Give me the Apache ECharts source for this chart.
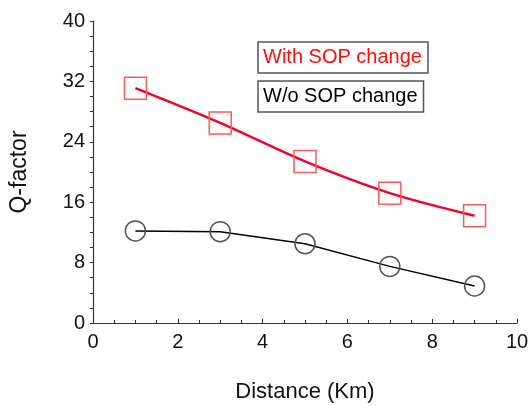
<!DOCTYPE html>
<html>
<head>
<meta charset="utf-8">
<script src="https://cdn.jsdelivr.net/npm/echarts@6/dist/echarts.min.js"></script>
<style>html,body{margin:0;padding:0;background:#fff}#c{width:531px;height:406px}</style>
</head>
<body>
<div id="c"></div>
<script>
var distances = [1, 3, 5, 7, 9];
var withSOP = [31.1, 26.5, 21.4, 17.2, 14.2];
var withoutSOP = [12.2, 12.1, 10.5, 7.5, 4.9];
var xTicks = [0, 2, 4, 6, 8, 10];
var yTicks = [0, 8, 16, 24, 32, 40];

function pairs(xs, ys) { return xs.map(function (x, i) { return [x, ys[i]]; }); }

var font = 'Liberation Sans, Arial, sans-serif';
var chart = echarts.init(document.getElementById('c'));
chart.setOption({
  animation: false,
  backgroundColor: '#fff',
  grid: { left: 93, right: 14, top: 21, bottom: 83, outerBoundsMode: 'none', containLabel: false },
  legend: [
    {
      left: 258, top: 42, orient: 'vertical',
      data: [{ name: 'With SOP change', icon: 'none', textStyle: { color: '#ff0d0d' } }],
      itemWidth: 0, itemGap: 0, padding: [5, 6, 6, 0],
      borderColor: '#555', borderWidth: 1.5, selectedMode: false,
      textStyle: { fontFamily: font, fontSize: 20 }
    },
    {
      left: 258, top: 81, orient: 'vertical',
      data: [{ name: 'W/o SOP change', icon: 'none', textStyle: { color: '#000' } }],
      itemWidth: 0, itemGap: 0, padding: [5, 6, 6, 0],
      borderColor: '#555', borderWidth: 1.5, selectedMode: false,
      textStyle: { fontFamily: font, fontSize: 20 }
    }
  ],
  xAxis: {
    type: 'value', min: xTicks[0], max: xTicks[xTicks.length - 1], interval: 2,
    name: 'Distance (Km)', nameLocation: 'middle', nameGap: 58,
    nameTextStyle: { fontFamily: font, fontSize: 22, color: '#111' },
    axisLine: { show: true, lineStyle: { color: '#333', width: 1.2 } },
    axisTick: { show: true, inside: true, length: 4, lineStyle: { color: '#333' } },
    minorTick: { show: true, splitNumber: 4, length: 3, lineStyle: { color: '#333' } },
    axisLabel: { fontFamily: font, fontSize: 20, color: '#111', margin: 9 },
    splitLine: { show: false }
  },
  yAxis: {
    type: 'value', min: yTicks[0], max: yTicks[yTicks.length - 1], interval: 8,
    name: 'Q-factor', nameLocation: 'middle', nameGap: 62,
    nameTextStyle: { fontFamily: font, fontSize: 23, color: '#111' },
    axisLine: { show: true, lineStyle: { color: '#333', width: 1.2 } },
    axisTick: { show: true, inside: false, length: 3, lineStyle: { color: '#333' } },
    minorTick: { show: true, splitNumber: 4, length: 3, lineStyle: { color: '#333' } },
    axisLabel: { fontFamily: font, fontSize: 20, color: '#111', margin: 8 },
    splitLine: { show: false }
  },
  series: [
    {
      name: 'With SOP change', type: 'line', data: pairs(distances, withSOP),
      smooth: 0.3, symbol: 'rect', symbolSize: 22,
      lineStyle: { color: '#f5002a', width: 2.5 },
      itemStyle: { color: 'rgba(0,0,0,0)', borderColor: '#ff5a5a', borderWidth: 1.5 },
      z: 3
    },
    {
      name: 'W/o SOP change', type: 'line', data: pairs(distances, withoutSOP),
      smooth: false, symbol: 'circle', symbolSize: 20,
      lineStyle: { color: '#000', width: 1.5 },
      itemStyle: { color: 'rgba(0,0,0,0)', borderColor: '#555', borderWidth: 1.5 },
      z: 2
    }
  ]
});
</script>
</body>
</html>
